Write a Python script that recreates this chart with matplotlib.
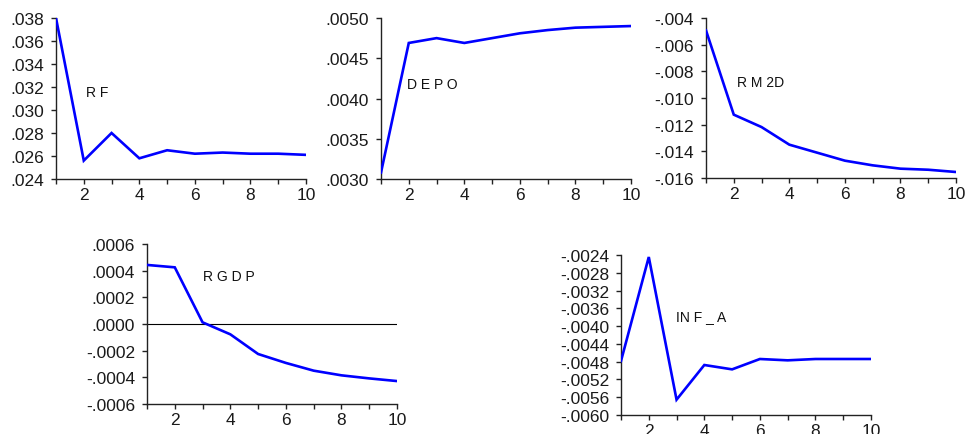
import matplotlib
matplotlib.use("Agg")
import matplotlib.pyplot as plt

plt.rcParams['font.family'] = ['Liberation Sans', 'DejaVu Sans']

periods = [1, 2, 3, 4, 5, 6, 7, 8, 9, 10]

rf = [0.0380, 0.0256, 0.0280, 0.0258, 0.0265, 0.0262, 0.0263, 0.0262, 0.0262, 0.0261]
depo = [0.00308, 0.00469, 0.00475, 0.00469, 0.00475, 0.00481, 0.00485, 0.00488, 0.00489, 0.00490]
rm2d = [-0.00493, -0.01125, -0.01218, -0.01350, -0.01410, -0.01470, -0.01505, -0.01530, -0.01538, -0.01555]
rgdp = [0.000443, 0.000425, 0.0000125, -0.0000775, -0.000225, -0.000292, -0.000350, -0.000385, -0.000408, -0.000428]
inf_a = [-0.004785, -0.002445, -0.005655, -0.004875, -0.004973, -0.00474, -0.00477, -0.00474, -0.00474, -0.00474]

rf_ticks = [0.024, 0.026, 0.028, 0.030, 0.032, 0.034, 0.036, 0.038]
rf_labels = ['.024', '.026', '.028', '.030', '.032', '.034', '.036', '.038']
depo_ticks = [0.0030, 0.0035, 0.0040, 0.0045, 0.0050]
depo_labels = ['.0030', '.0035', '.0040', '.0045', '.0050']
rm2d_ticks = [-0.016, -0.014, -0.012, -0.010, -0.008, -0.006, -0.004]
rm2d_labels = ['-.016', '-.014', '-.012', '-.010', '-.008', '-.006', '-.004']
rgdp_ticks = [-0.0006, -0.0004, -0.0002, 0.0, 0.0002, 0.0004, 0.0006]
rgdp_labels = ['-.0006', '-.0004', '-.0002', '.0000', '.0002', '.0004', '.0006']
inf_ticks = [-0.0060, -0.0056, -0.0052, -0.0048, -0.0044, -0.0040, -0.0036, -0.0032, -0.0028, -0.0024]
inf_labels = ['-.0060', '-.0056', '-.0052', '-.0048', '-.0044', '-.0040', '-.0036', '-.0032', '-.0028', '-.0024']

x_major = [2, 4, 6, 8, 10]
x_labels = ['2', '4', '6', '8', '10']

W, H = 969, 435
fig = plt.figure(figsize=(W / 100, H / 100), dpi=100)

def make_ax(x0, x1, ytop, ybot):
    return fig.add_axes([x0 / W, (H - ybot) / H, (x1 - x0) / W, (ybot - ytop) / H])

panels = [
    (make_ax(56, 306, 19, 180), rf, rf_ticks, rf_labels, 'R F', (0.12, 0.54)),
    (make_ax(381, 631, 19, 180), depo, depo_ticks, depo_labels, 'D E P O', (0.104, 0.59)),
    (make_ax(706, 956, 19, 179), rm2d, rm2d_ticks, rm2d_labels, 'R M 2D', (0.124, 0.60)),
    (make_ax(147, 397, 245, 405), rgdp, rgdp_ticks, rgdp_labels, 'R G D P', (0.224, 0.80)),
    (make_ax(621, 871, 256, 416), inf_a, inf_ticks, inf_labels, 'IN F _ A', (0.22, 0.62)),
]

for ax, vals, yt, yl, name, pos in panels:
    ax.plot(periods, vals, color='#0000ff', lw=1.9, solid_joinstyle='miter', zorder=3)
    ax.set_xlim(1, 10)
    ax.set_ylim(yt[0], yt[-1])
    ax.set_yticks(yt)
    ax.set_yticklabels(yl)
    ax.set_xticks(x_major)
    ax.set_xticklabels(x_labels)
    ax.set_xticks(periods, minor=True)
    for s in ('top', 'right'):
        ax.spines[s].set_visible(False)
    for s in ('left', 'bottom'):
        ax.spines[s].set_color('#222222')
        ax.spines[s].set_linewidth(1.0)
    ax.tick_params(axis='both', which='both', direction='out', length=3.5, width=1,
                   color='#222222', labelsize=12.5, labelcolor='#1a1a1a')
    ax.tick_params(axis='y', pad=5)
    ax.tick_params(axis='x', pad=2.5)
    ax.patch.set_visible(False)
    ax.text(pos[0], pos[1], name, fontsize=10, color='#111111', va='center', ha='left',
            transform=ax.transAxes)
    if yt[0] < 0 < yt[-1]:
        ax.axhline(0, color='black', lw=0.8, zorder=2)

fig.savefig('out.png', dpi=100)
